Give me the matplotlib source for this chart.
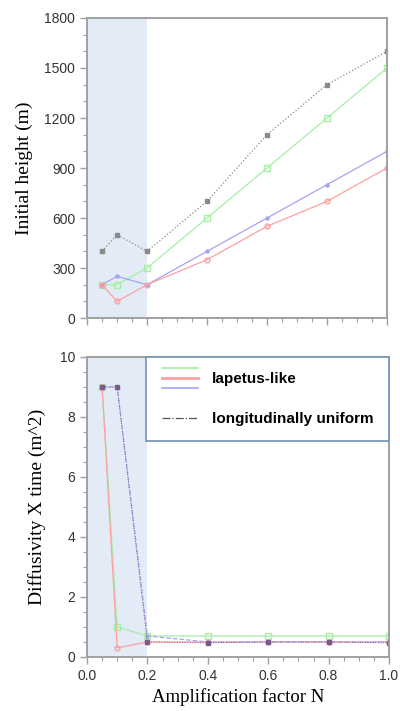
import matplotlib.pyplot as plt
from matplotlib.lines import Line2D
from matplotlib.legend_handler import HandlerBase
from matplotlib.ticker import MultipleLocator

# amplification factor N
n_vals = [0.05, 0.1, 0.2, 0.4, 0.6, 0.8, 1.0]

# initial height (m)
h_uniform = [400, 500, 400, 700, 1100, 1400, 1600]
h_green = [200, 200, 300, 600, 900, 1200, 1500]
h_blue = [200, 250, 200, 400, 600, 800, 1000]
h_red = [200, 100, 200, 350, 550, 700, 900]

# diffusivity x time (m^2)
d_green = [9, 1.0, 0.7, 0.7, 0.7, 0.7, 0.7]
d_red = [9, 0.3, 0.5, 0.5, 0.5, 0.5, 0.5]
d_blue = [9, 9, 0.7, 0.5, 0.5, 0.5, 0.5]
d_uniform = [9, 9, 0.5, 0.47, 0.5, 0.5, 0.47]

GREEN = '#a6eea6'
RED = '#ffa0a0'
BLUE = '#a4a4f5'
GRAY = '#8a8a8a'
SHADE = '#e3ebf7'
AXC = '#a0a0a0'

serif = ['Liberation Serif', 'DejaVu Serif']
sans = ['Liberation Sans', 'DejaVu Sans']
plt.rcParams['font.family'] = sans


class StackHandler(HandlerBase):
    # three coloured lines stacked for one legend entry
    def create_artists(self, legend, orig_handle, xd, yd, width, height, fontsize, trans):
        arts = []
        ys = [height * 1.45, height * 0.5, height * -0.45]
        for c, y in zip(orig_handle, ys):
            ln = Line2D([-xd, width - xd], [y - yd, y - yd], color=c, lw=2.0 if c == RED else 1.2)
            ln.set_transform(trans)
            arts.append(ln)
        return arts


class Stack(tuple):
    pass


def style(ax):
    for s in ax.spines.values():
        s.set_color(AXC)
        s.set_linewidth(1.4)
    ax.tick_params(which='both', direction='out', color=AXC, top=False, right=False,
                   labelsize=10, labelcolor='#333333')
    ax.tick_params(which='major', length=5, width=1)
    ax.tick_params(which='minor', length=3, width=0.8)
    ax.set_xlim(0, 1.0)
    ax.axvspan(0, 0.2, color=SHADE, zorder=0, lw=0)
    ax.xaxis.set_major_locator(MultipleLocator(0.2))
    ax.xaxis.set_minor_locator(MultipleLocator(0.05))


fig = plt.figure(figsize=(4, 7.11), dpi=100)

ax1 = fig.add_axes([0.2175, 0.5527, 0.75, 0.422])
style(ax1)
ax1.plot(n_vals, h_uniform, color=GRAY, ls=':', lw=0.9, marker='s', ms=2.5)
ax1.plot(n_vals, h_green, color=GREEN, lw=0.9, marker='s', ms=4.5, mfc='none')
ax1.plot(n_vals, h_blue, color=BLUE, lw=0.9, marker='o', ms=2.2)
ax1.plot(n_vals, h_red, color=RED, lw=0.9, marker='o', ms=3.5, mfc='none')
ax1.set_ylim(0, 1800)
ax1.yaxis.set_major_locator(MultipleLocator(300))
ax1.yaxis.set_minor_locator(MultipleLocator(100))
ax1.set_xticklabels([])
ax1.set_ylabel('Initial height (m)', family=serif, fontsize=14, labelpad=8)

ax2 = fig.add_axes([0.2175, 0.076, 0.755, 0.422])
style(ax2)
ax2.plot(n_vals, d_green, color=GREEN, lw=0.9, marker='s', ms=4.5, mfc='none')
ax2.plot(n_vals, d_red, color=RED, lw=0.9, marker='o', ms=3.5, mfc='none')
ax2.plot(n_vals, d_blue, color=BLUE, lw=0.9, ls='--', marker='o', ms=2.2)
ax2.plot(n_vals, d_uniform, color='#7a5a8a', lw=0.7, ls=':', marker='s', ms=2.5)
ax2.set_ylim(0, 10)
ax2.yaxis.set_major_locator(MultipleLocator(2))
ax2.yaxis.set_minor_locator(MultipleLocator(0.5))
ax2.xaxis.set_major_formatter(plt.FormatStrFormatter('%.1f'))
ax2.set_ylabel('Diffusivity X time (m^2)', family=serif, fontsize=14, labelpad=10)
ax2.set_xlabel('Amplification factor N', family=serif, fontsize=13.5, labelpad=4)

h_stack = Stack((GREEN, RED, BLUE))
h_uni = Line2D([], [], color='#555555', lw=0.9, ls='-.')
leg = ax2.legend([h_stack, h_uni], ['lapetus-like', 'longitudinally uniform'],
                 handler_map={Stack: StackHandler()},
                 loc='upper right', bbox_to_anchor=(1.0, 1.0), borderaxespad=0,
                 prop={'family': sans, 'weight': 'bold', 'size': 11},
                 handlelength=2.4, handletextpad=0.9, labelspacing=1.7,
                 borderpad=1.0, fancybox=False, framealpha=1)
leg.get_frame().set_edgecolor('#7a98b8')
leg.get_frame().set_linewidth(1.3)

plt.savefig('out.png', dpi=100)
